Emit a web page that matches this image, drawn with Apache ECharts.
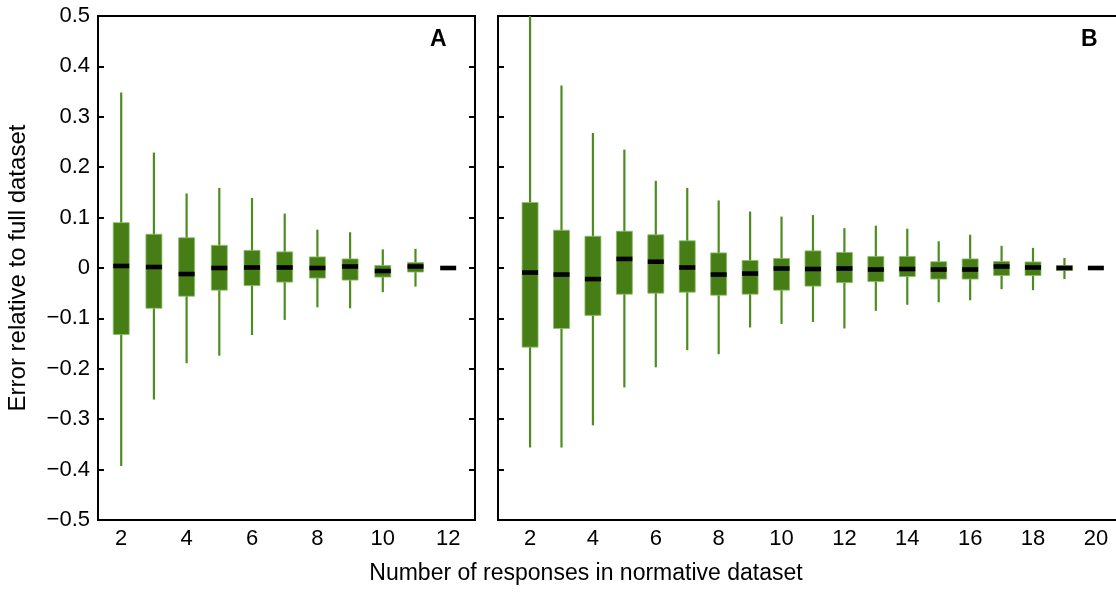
<!DOCTYPE html>
<html>
<head>
<meta charset="utf-8">
<script src="https://cdn.jsdelivr.net/npm/echarts@6/dist/echarts.min.js"></script>
<style>
    html, body { margin: 0; padding: 0; background: #fff; }
    #main { width: 1116px; height: 592px; }
</style>
</head>
<body>
<div id="main"></div>
<script>
// panel A: number of responses 2..12
var sizesA = [2, 3, 4, 5, 6, 7, 8, 9, 10, 11, 12];
var lowA = [-0.393, -0.261, -0.189, -0.174, -0.133, -0.103, -0.078, -0.080, -0.048, -0.037, 0];
var q1A = [-0.132, -0.080, -0.056, -0.044, -0.035, -0.028, -0.020, -0.024, -0.018, -0.008, 0];
var medA = [0.004, 0.002, -0.012, 0, 0.001, 0.001, 0, 0.003, -0.006, 0.003, 0];
var q3A = [0.090, 0.067, 0.060, 0.045, 0.035, 0.032, 0.022, 0.018, 0.005, 0.011, 0];
var highA = [0.348, 0.229, 0.148, 0.159, 0.139, 0.108, 0.076, 0.071, 0.037, 0.038, 0];

// panel B: number of responses 2..20
var sizesB = [2, 3, 4, 5, 6, 7, 8, 9, 10, 11, 12, 13, 14, 15, 16, 17, 18, 19, 20];
var lowB = [-0.356, -0.356, -0.312, -0.237, -0.197, -0.163, -0.171, -0.118, -0.111, -0.107, -0.120, -0.085, -0.073, -0.068, -0.064, -0.042, -0.044, -0.022, 0];
var q1B = [-0.157, -0.120, -0.094, -0.052, -0.050, -0.048, -0.054, -0.052, -0.044, -0.036, -0.029, -0.027, -0.017, -0.022, -0.022, -0.015, -0.015, -0.005, 0];
var medB = [-0.009, -0.013, -0.022, 0.018, 0.0125, 0.001, -0.013, -0.011, -0.001, -0.002, -0.001, -0.003, -0.002, -0.003, -0.003, 0.003, 0.001, 0, 0];
var q3B = [0.130, 0.075, 0.063, 0.073, 0.066, 0.054, 0.030, 0.015, 0.019, 0.034, 0.031, 0.023, 0.023, 0.0125, 0.018, 0.013, 0.012, 0.005, 0];
var highB = [0.5, 0.362, 0.268, 0.235, 0.173, 0.159, 0.134, 0.112, 0.102, 0.105, 0.079, 0.084, 0.078, 0.053, 0.066, 0.044, 0.040, 0.020, 0];

var xTicksA = [2, 4, 6, 8, 10, 12];
var xTicksB = [2, 4, 6, 8, 10, 12, 14, 16, 18, 20];

var fontName = 'Liberation Sans';
var boxColor = '#467e15';
var whiskerColor = '#4d8c1f';

function buildRows(sizes, low, q1, med, q3, high) {
    var rows = [];
    sizes.forEach(function (v, i) {
        rows.push([v, low[i], q1[i], med[i], q3[i], high[i]]);
    });
    return rows;
}

/**
 * 画一个箱子: 须线, 箱体, 中位数
 */
function renderBox(params, api) {
    var x = api.value(0);
    var low = api.coord([x, api.value(1)]);
    var q1 = api.coord([x, api.value(2)]);
    var med = api.coord([x, api.value(3)]);
    var q3 = api.coord([x, api.value(4)]);
    var high = api.coord([x, api.value(5)]);
    var half = 8;
    var children = [];
    if (low[1] - high[1] > 0.5) {
        children.push({
            type: 'line',
            shape: { x1: low[0], y1: low[1], x2: high[0], y2: high[1] },
            style: { stroke: whiskerColor, lineWidth: 2.2 }
        });
    }
    if (q1[1] - q3[1] > 0.5) {
        children.push({
            type: 'rect',
            shape: { x: q3[0] - half, y: q3[1], width: half * 2, height: q1[1] - q3[1] },
            style: { fill: boxColor, stroke: '#8fbf6e', lineWidth: 0.8 }
        });
    }
    children.push({
        type: 'rect',
        shape: { x: med[0] - half, y: med[1] - 2.3, width: half * 2, height: 4.6 },
        style: { fill: '#000' }
    });
    return { type: 'group', children: children };
}

function yLabel(v) {
    if (Math.abs(v) < 1e-9) return '0';
    return v.toFixed(1).replace('-', '\u2212');
}

var dom = document.getElementById('main');
var myChart = echarts.init(dom);

var yCommon = {
    type: 'value',
    min: -0.5,
    max: 0.5,
    interval: 0.1,
    splitLine: { show: false },
    axisLine: { show: false },
    axisTick: { show: true, inside: true, length: 6, lineStyle: { color: '#000', width: 2 } }
};

function yAxisFor(gridIndex, position, showLabel) {
    var axis = echarts.util.merge({}, yCommon, true);
    axis.gridIndex = gridIndex;
    axis.position = position;
    axis.axisLabel = {
        show: showLabel,
        color: '#000',
        fontFamily: fontName,
        fontSize: 22,
        margin: 8,
        formatter: yLabel
    };
    return axis;
}

var yA = yAxisFor(0, 'left', true);
yA.name = 'Error relative to full dataset';
yA.nameLocation = 'middle';
yA.nameRotate = 90;
yA.nameGap = 68;
yA.nameTextStyle = { color: '#000', fontFamily: fontName, fontSize: 24 };

function xAxisFor(gridIndex, min, max, ticks) {
    return {
        type: 'value',
        gridIndex: gridIndex,
        min: min,
        max: max,
        splitLine: { show: false },
        axisLine: { show: false },
        axisTick: { show: false },
        axisLabel: {
            color: '#000',
            fontFamily: fontName,
            fontSize: 22,
            margin: 8,
            customValues: ticks
        }
    };
}

var option = {
    animation: false,
    grid: [
        { left: 98, top: 16, right: 641, bottom: 72, show: true, borderColor: '#000', borderWidth: 2, outerBoundsMode: 'none' },
        { left: 498, top: 16, right: -11, bottom: 72, show: true, borderColor: '#000', borderWidth: 2, outerBoundsMode: 'none' }
    ],
    xAxis: [
        xAxisFor(0, 1.29, 12.82, xTicksA),
        xAxisFor(1, 0.98, 20.99, xTicksB)
    ],
    yAxis: [
        yA,
        yAxisFor(0, 'right', false),
        yAxisFor(1, 'left', false),
        yAxisFor(1, 'right', false)
    ],
    graphic: [
        { type: 'text', left: 430, top: 28, style: { text: 'A', fill: '#000', font: 'bold 23px ' + fontName } },
        { type: 'text', left: 1081, top: 28, style: { text: 'B', fill: '#000', font: 'bold 23px ' + fontName } },
        { type: 'text', x: 586, y: 574, style: { text: 'Number of responses in normative dataset', fill: '#000', font: '23px ' + fontName, textAlign: 'center', textVerticalAlign: 'middle' } }
    ],
    series: [
        {
            type: 'custom',
            xAxisIndex: 0,
            yAxisIndex: 0,
            clip: true,
            renderItem: renderBox,
            encode: { x: 0, y: [1, 2, 3, 4, 5] },
            data: buildRows(sizesA, lowA, q1A, medA, q3A, highA)
        },
        {
            type: 'custom',
            xAxisIndex: 1,
            yAxisIndex: 2,
            clip: true,
            renderItem: renderBox,
            encode: { x: 0, y: [1, 2, 3, 4, 5] },
            data: buildRows(sizesB, lowB, q1B, medB, q3B, highB)
        }
    ]
};
myChart.setOption(option, true);
</script>
</body>
</html>
